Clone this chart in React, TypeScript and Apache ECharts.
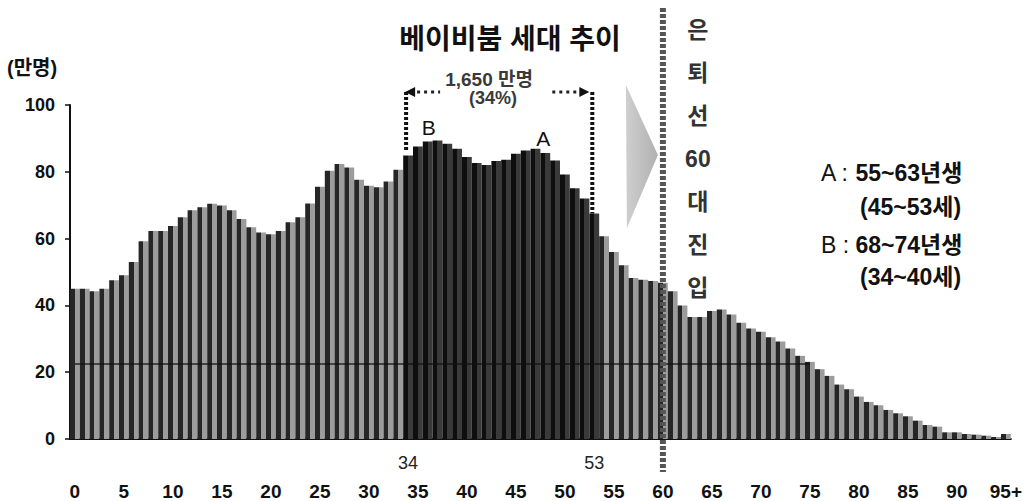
import React, { useEffect, useRef } from "react";
import * as echarts from "echarts";

// ---- data ----
const AGES: string[] = Array.from({ length: 96 }, (_, i) => (i === 95 ? "95+" : String(i)));

// population by age, unit: 10,000 persons (만명)
const POPULATION: number[] = [
  45.0, 45.0, 44.2, 45.0, 47.5, 49.0, 53.0, 59.2, 62.3, 62.3,
  63.8, 66.4, 68.5, 69.4, 70.4, 69.9, 68.5, 65.9, 63.4, 61.8,
  61.3, 62.3, 64.9, 66.4, 70.5, 75.5, 80.3, 82.3, 81.3, 77.6,
  75.8, 75.4, 77.1, 80.6, 84.9, 87.6, 89.1, 89.4, 88.4, 86.9,
  84.4, 82.6, 82.0, 83.2, 83.6, 85.4, 86.4, 86.9, 85.6, 83.4,
  79.2, 75.1, 72.0, 67.5, 60.7, 56.0, 52.0, 48.2, 47.7, 47.3,
  46.8, 44.2, 40.0, 36.5, 36.5, 38.3, 38.8, 37.3, 34.8, 33.1,
  32.1, 30.5, 29.2, 27.1, 24.9, 23.1, 20.9, 18.9, 16.3, 14.9,
  12.7, 11.1, 10.1, 8.7, 7.7, 6.8, 5.5, 4.2, 3.7, 2.0,
  2.0, 1.5, 1.3, 1.0, 0.6, 1.5,
];

const Y_MIN = 0;
const Y_MAX = 100;
const Y_INTERVAL = 20;
const BOOM_START = 34;
const BOOM_END = 53;
const RETIRE_AGE = 60;
const PEAK_B = 36;
const PEAK_A = 48;
const REF_LINE_VALUE = 22.5;
const REF_LINE_END = 75;

const TITLE = "베이비붐 세대 추이";
const UNIT = "(만명)";
const BRACKET_LINE1 = "1,650 만명";
const BRACKET_LINE2 = "(34%)";
const RETIRE_TEXT = ["은", "퇴", "선", "60", "대", "진", "입"];
const LEGEND_A = ["A", "55~63년생", "(45~53세)"];
const LEGEND_B = ["B", "68~74년생", "(34~40세)"];

const FONT = "'Liberation Sans', 'Noto Sans CJK KR', Arial, sans-serif";

function stripe(dark: string, light: string) {
  return new echarts.graphic.LinearGradient(0, 0, 1, 0, [
    { offset: 0, color: dark },
    { offset: 0.5, color: dark },
    { offset: 0.5, color: light },
    { offset: 1, color: light },
  ]);
}

export default function App() {
  const ref = useRef<HTMLDivElement>(null);

  useEffect(() => {
    document.body.style.margin = "0";
    document.body.style.overflow = "hidden";
    if (!ref.current) return;
    const chart = echarts.init(ref.current, undefined, { renderer: "svg" });

    const normal = stripe("#262626", "#9c9c9c");
    const boom = stripe("#0e0e0e", "#3a3a3a");

    const data = POPULATION.map((v, i) => ({
      value: v,
      itemStyle: { color: i >= BOOM_START && i <= BOOM_END ? boom : normal },
    }));

    const option: any = {
      animation: false,
      backgroundColor: "#ffffff",
      grid: { left: 70, right: 13, top: 105, bottom: 61, containLabel: false },
      xAxis: [
        {
          type: "category",
          data: AGES,
          boundaryGap: true,
          axisLine: { show: true, lineStyle: { color: "#111", width: 2 } },
          axisTick: { show: false },
          axisLabel: {
            interval: (i: number) => i % 5 === 0,
            margin: 43,
            fontSize: 19,
            fontWeight: "bold",
            color: "#111",
            fontFamily: FONT,
          },
          splitLine: { show: false },
        },
        {
          type: "category",
          data: AGES,
          position: "bottom",
          offset: 0,
          boundaryGap: true,
          axisLine: { show: false },
          axisTick: { show: false },
          axisLabel: {
            interval: (i: number) => i === BOOM_START || i === BOOM_END,
            margin: 15,
            fontSize: 18,
            color: "#222",
            fontFamily: FONT,
          },
          splitLine: { show: false },
        },
      ],
      yAxis: {
        type: "value",
        min: Y_MIN,
        max: Y_MAX,
        interval: Y_INTERVAL,
        axisLine: { show: true, lineStyle: { color: "#111", width: 2 } },
        axisTick: { show: true, length: 5, lineStyle: { color: "#111", width: 1.5 } },
        splitLine: { show: false },
        axisLabel: {
          margin: 15,
          fontSize: 18,
          fontWeight: "bold",
          color: "#111",
          fontFamily: FONT,
        },
      },
      series: [
        {
          type: "bar",
          data,
          barCategoryGap: "0%",
          barGap: "0%",
          markLine: {
            silent: true,
            symbol: ["none", "none"],
            label: { show: false },
            lineStyle: { color: "#111", width: 1.5, type: "solid", opacity: 0.85 },
            data: [
              [
                { coord: [AGES[0], REF_LINE_VALUE] },
                { coord: [AGES[REF_LINE_END], REF_LINE_VALUE] },
              ],
            ],
          },
        },
      ],
    };
    chart.setOption(option);

    const px = (i: number) => chart.convertToPixel({ xAxisIndex: 0 }, AGES[i]) as number;
    const py = (v: number) => chart.convertToPixel({ yAxisIndex: 0 }, v) as number;

    const x60 = px(RETIRE_AGE);
    const xL = px(BOOM_START) - 2;
    const xR = px(BOOM_END) - 2;
    const yTop = 92;
    const dotted = { stroke: "#111", lineWidth: 4, lineDash: [3, 2] };
    const dots = { stroke: "#222", lineWidth: 3, lineDash: [3, 4] };

    const graphic: any[] = [
      {
        type: "text",
        x: 510,
        y: 39,
        style: {
          text: TITLE,
          fontSize: 28,
          fontWeight: "bold",
          fontFamily: FONT,
          fill: "#111",
          align: "center",
          verticalAlign: "middle",
        },
      },
      {
        type: "text",
        x: 7,
        y: 68,
        style: {
          text: UNIT,
          fontSize: 20,
          fontWeight: "bold",
          fontFamily: FONT,
          fill: "#111",
          align: "left",
          verticalAlign: "middle",
        },
      },
      // retirement dashed line
      {
        type: "line",
        z: 100,
        shape: { x1: x60, y1: 8, x2: x60, y2: 472 },
        style: { stroke: "#555", lineWidth: 6, lineDash: [4, 2] },
      },
      // grey arrow triangle
      {
        type: "polygon",
        z: 90,
        shape: { points: [[x60 - 37, 85], [x60 - 5, 155], [x60 - 36, 228]] },
        style: {
          fill: new echarts.graphic.LinearGradient(0, 0, 1, 0, [
            { offset: 0, color: "#cfcfcf" },
            { offset: 1, color: "#b0b0b0" },
          ]),
        },
      },
      {
        type: "text",
        x: x60 + 35,
        y: 8,
        style: {
          text: RETIRE_TEXT.join("\n"),
          lineHeight: 43,
          fontSize: 23,
          fontWeight: "bold",
          fontFamily: FONT,
          fill: "#333",
          align: "center",
          verticalAlign: "top",
        },
      },
      // bracket verticals
      {
        type: "line",
        z: 100,
        shape: { x1: xL, y1: yTop, x2: xL, y2: py(POPULATION[BOOM_START]) - 4 },
        style: dotted,
      },
      {
        type: "line",
        z: 100,
        shape: { x1: xR, y1: yTop, x2: xR, y2: py(POPULATION[BOOM_END]) },
        style: dotted,
      },
      // bracket horizontal dots
      {
        type: "line",
        z: 100,
        shape: { x1: xL + 11, y1: yTop, x2: xL + 34, y2: yTop },
        style: dots,
      },
      {
        type: "line",
        z: 100,
        shape: { x1: xR - 40, y1: yTop, x2: xR - 14, y2: yTop },
        style: dots,
      },
      {
        type: "polygon",
        z: 100,
        shape: { points: [[xL - 1, yTop], [xL + 9, yTop - 5], [xL + 9, yTop + 5]] },
        style: { fill: "#111" },
      },
      {
        type: "polygon",
        z: 100,
        shape: { points: [[xR - 3, yTop], [xR - 13, yTop - 5], [xR - 13, yTop + 5]] },
        style: { fill: "#111" },
      },
      {
        type: "text",
        z: 101,
        x: xL + 83,
        y: 79,
        style: {
          text: BRACKET_LINE1,
          fontSize: 19,
          fontWeight: "bold",
          fontFamily: FONT,
          fill: "#3a3a3a",
          align: "center",
          verticalAlign: "middle",
        },
      },
      {
        type: "text",
        z: 101,
        x: xL + 87,
        y: 98,
        style: {
          text: BRACKET_LINE2,
          fontSize: 18,
          fontWeight: "bold",
          fontFamily: FONT,
          fill: "#3a3a3a",
          align: "center",
          verticalAlign: "middle",
        },
      },
      // peak labels
      {
        type: "text",
        z: 101,
        x: px(PEAK_B) + 1,
        y: py(POPULATION[PEAK_B]) - 14,
        style: {
          text: "B",
          fontSize: 21,
          fontFamily: FONT,
          fill: "#111",
          align: "center",
          verticalAlign: "middle",
        },
      },
      {
        type: "text",
        z: 101,
        x: px(PEAK_A) - 2,
        y: py(POPULATION[PEAK_A]) - 15,
        style: {
          text: "A",
          fontSize: 21,
          fontFamily: FONT,
          fill: "#111",
          align: "center",
          verticalAlign: "middle",
        },
      },
    ];

    const legend = (rows: string[], y1: number, y2: number) => [
      {
        type: "text",
        x: 821,
        y: y1,
        style: {
          text: `{l|${rows[0]} : }{b|${rows[1]}}`,
          align: "left",
          verticalAlign: "middle",
          rich: {
            l: { fontSize: 23, fontFamily: FONT, fill: "#111" },
            b: { fontSize: 23, fontWeight: "bold", fontFamily: FONT, fill: "#111" },
          },
        },
      },
      {
        type: "text",
        x: 860,
        y: y2,
        style: {
          text: rows[2],
          fontSize: 23,
          fontWeight: "bold",
          fontFamily: FONT,
          fill: "#111",
          align: "left",
          verticalAlign: "middle",
        },
      },
    ];
    graphic.push(...legend(LEGEND_A, 173, 207));
    graphic.push(...legend(LEGEND_B, 245, 277));

    chart.setOption({ graphic });

    return () => chart.dispose();
  }, []);

  return <div ref={ref} style={{ width: 1025, height: 501 }} />;
}
